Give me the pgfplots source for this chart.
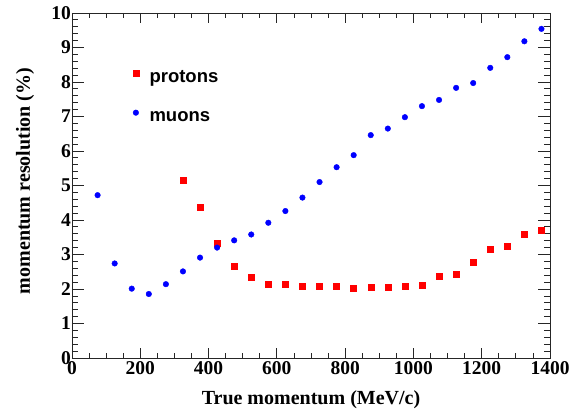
\documentclass[border=0pt]{standalone}
\usepackage{fontspec}
\setmainfont{Liberation Serif}
\newfontfamily\legfont{Liberation Sans}
\usepackage{pgfplots}
\pgfplotsset{compat=1.18}
\definecolor{rootred}{rgb}{1,0,0}
\definecolor{rootblue}{rgb}{0,0,1}
\begin{document}
\begin{tikzpicture}
\begin{axis}[
  name=ax, at={(0,0)}, anchor=south west,
  scale only axis, width=478bp, height=345bp,
  xmin=0, xmax=1400, ymin=0, ymax=10,
  xtick={0,200,...,1400}, ytick={0,1,...,10},
  minor x tick num=3, minor y tick num=4,
  tick align=inside,
  major tick length=12bp, minor tick length=6bp,
  xtick style={/pgfplots/major tick length=10bp, /pgfplots/minor tick length=5bp},
  axis line style={line width=0.8bp, black!85},
  every tick/.style={line width=0.8bp, black!85},
  tick label style={font=\fontsize{19.5bp}{22bp}\selectfont\bfseries},
  xticklabel={\pgfmathprintnumber[assume math mode=true,1000 sep={},fixed,precision=0]{\tick}},
  yticklabel={\pgfmathprintnumber[assume math mode=true,fixed,precision=0]{\tick}},
  yticklabel style={xshift=2.5bp},
  xlabel={True momentum (MeV/c)},
  ylabel={momentum resolution (\%)},
  label style={font=\fontsize{20bp}{24bp}\selectfont\bfseries},
  xlabel style={at={(axis description cs:0.5,-0.1362)}, anchor=base},
  ylabel style={at={(axis description cs:-0.0879,0.513)}, anchor=base},
  legend style={draw=none, fill=none, at={(axis description cs:0.127,0.756)}, anchor=west,
    font={\legfont\fontsize{18.5bp}{22bp}\selectfont\bfseries},
    row sep=22bp, column sep=10.6bp, inner sep=0pt,
    nodes={inner sep=0pt, text height=13bp, text depth=4bp}},
  legend cell align=left,
  legend image code/.code={\draw[#1] plot coordinates {(0bp,4bp)};},
]
\addplot[only marks, mark=square*, mark size=3bp, color=rootred] coordinates {
(325,5.14) (375,4.36) (425,3.33) (475,2.66) (525,2.34) (575,2.14) (625,2.14)
(675,2.07) (725,2.09) (775,2.09) (825,2.03) (875,2.06) (925,2.04) (975,2.09)
(1025,2.12) (1075,2.38) (1125,2.43) (1175,2.78) (1225,3.16) (1275,3.24)
(1325,3.58) (1375,3.71)
};
\addlegendentry{protons}
\addplot[only marks, mark=*, mark size=2.8bp, color=rootblue] coordinates {
(75,4.72) (125,2.74) (175,2.01) (225,1.855) (275,2.14) (325,2.51) (375,2.91)
(425,3.20) (475,3.41) (525,3.58) (575,3.92) (625,4.26) (675,4.65) (725,5.10)
(775,5.53) (825,5.88) (875,6.46) (925,6.65) (975,6.98) (1025,7.30) (1075,7.48)
(1125,7.83) (1175,7.97) (1225,8.41) (1275,8.72) (1325,9.18) (1375,9.54)
};
\addlegendentry{muons}
\end{axis}
\pgfresetboundingbox
\path[use as bounding box] (-72bp,-52bp) rectangle (514bp,358bp);
\end{tikzpicture}
\end{document}
